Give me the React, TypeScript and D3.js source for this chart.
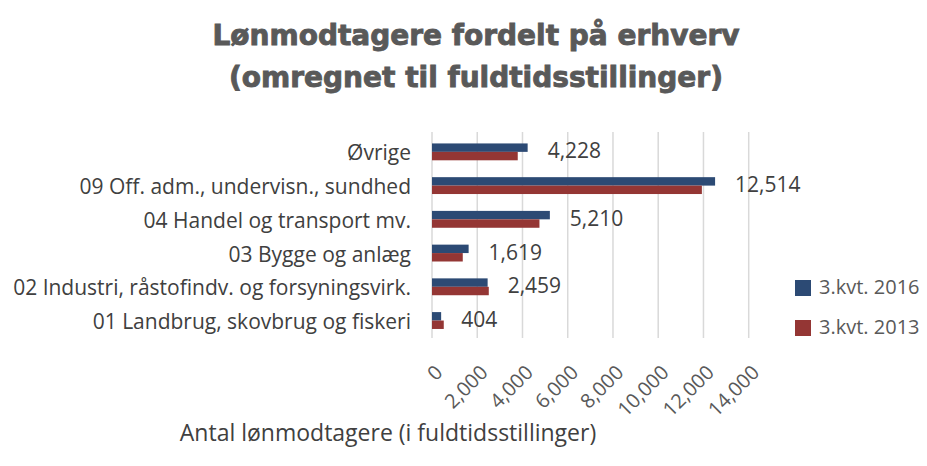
import * as d3 from 'd3';

const categories = [
  'Øvrige',
  '09 Off. adm., undervisn., sundhed',
  '04 Handel og transport mv.',
  '03 Bygge og anlæg',
  '02 Industri, råstofindv. og forsyningsvirk.',
  '01 Landbrug, skovbrug og fiskeri',
];
const seriesNames = ['3.kvt. 2016', '3.kvt. 2013'];
const values2016 = [4228, 12514, 5210, 1619, 2459, 404];
const values2013 = [3790, 11930, 4750, 1360, 2510, 520];
const xTicks = [0, 2000, 4000, 6000, 8000, 10000, 12000, 14000];
const colors = ['#2c4a74', '#943634'];

const W = 927;
const H = 466;
const font = '"Open Sans", sans-serif';
const titleFont = '"DejaVu Sans", sans-serif';

export default function App() {
  const x = d3.scaleLinear().domain([0, 14000]).range([432, 748.7]);
  const y = d3.scaleBand<string>().domain(categories).range([135, 337.4]).paddingInner(0.5).paddingOuter(0.25);
  const ys = d3.scaleBand<string>().domain(seriesNames).range([0, y.bandwidth()]);
  const fmt = d3.format(',');
  const series = [values2016, values2013];
  const mid = (c: string) => (y(c) ?? 0) + y.bandwidth() / 2;

  return (
    <svg width={W} height={H} style={{ position: 'absolute', left: 0, top: 0, background: '#fff' }}>
      <g fill="#595959" stroke="#595959" strokeWidth={0.9} fontFamily={titleFont} fontWeight="bold" fontSize={28} textAnchor="middle">
        <text x={476} y={45}>Lønmodtagere fordelt på erhverv</text>
        <text x={476} y={87}>(omregnet til fuldtidsstillinger)</text>
      </g>

      {xTicks.map((t) => (
        <line key={t} x1={x(t)} x2={x(t)} y1={132} y2={338} stroke="#d9d9d9" strokeWidth={1.5} />
      ))}

      {categories.map((c, i) => (
        <g key={c}>
          {series.map((vals, s) => (
            <rect
              key={s}
              x={x(0)}
              y={(y(c) ?? 0) + (ys(seriesNames[s]) ?? 0)}
              width={x(vals[i]) - x(0)}
              height={ys.bandwidth()}
              fill={colors[s]}
            />
          ))}
          <text x={411} y={mid(c) + 3} textAnchor="end" dominantBaseline="middle" fill="#404040" fontFamily={font} fontSize={21}>
            {c}
          </text>
          <text x={x(values2016[i]) + 20} y={mid(c) + 1} dominantBaseline="middle" fill="#404040" fontFamily={font} fontSize={21}>
            {fmt(values2016[i])}
          </text>
        </g>
      ))}

      {xTicks.map((t) => (
        <text
          key={'l' + t}
          transform={`translate(${x(t) + 8},${370}) rotate(-45)`}
          textAnchor="end"
          dominantBaseline="middle"
          fill="#595959"
          fontFamily={font}
          fontSize={20}
        >
          {fmt(t)}
        </text>
      ))}

      <text x={388} y={441} textAnchor="middle" fill="#404040" fontFamily={font} fontSize={23}>
        Antal lønmodtagere (i fuldtidsstillinger)
      </text>

      {seriesNames.map((s, i) => (
        <g key={s} transform={`translate(795,${280 + i * 40})`}>
          <rect width={16} height={16} fill={colors[i]} />
          <text x={24} y={9} dominantBaseline="middle" fill="#595959" fontFamily={font} fontSize={20}>
            {s}
          </text>
        </g>
      ))}
    </svg>
  );
}
